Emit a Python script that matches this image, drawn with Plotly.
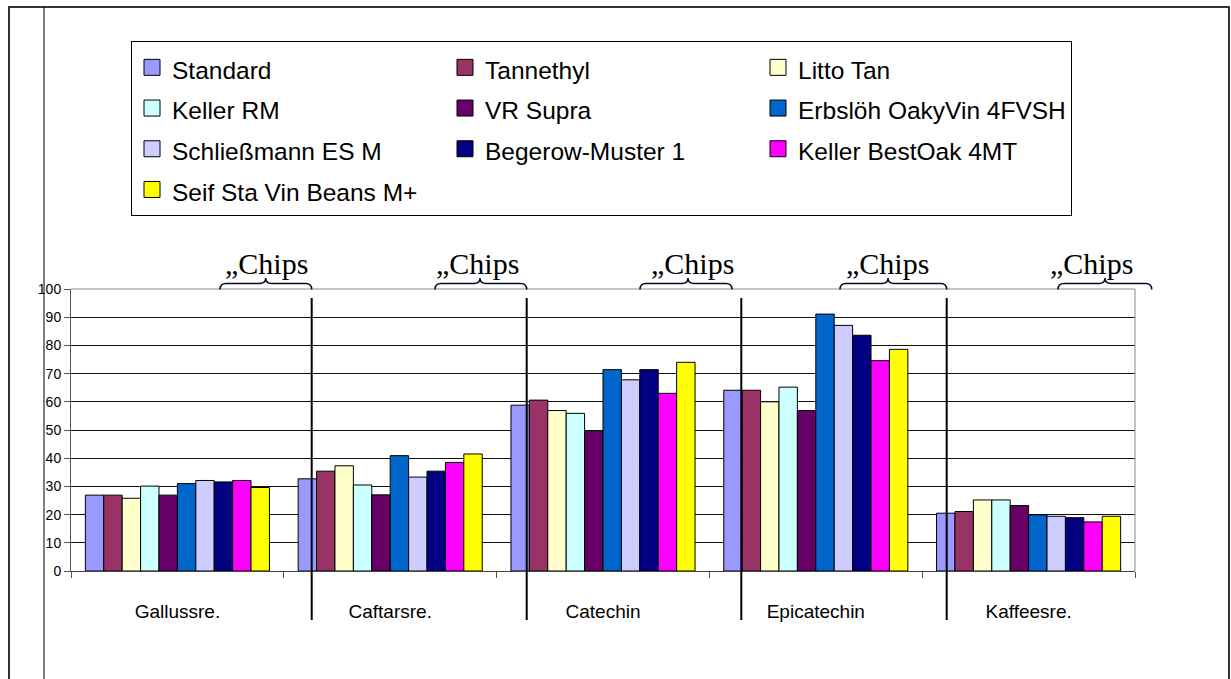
import plotly.graph_objects as go

# ---------------- data ----------------
categories = ["Gallussre.", "Caftarsre.", "Catechin", "Epicatechin", "Kaffeesre."]
series_names = ["Standard", "Tannethyl", "Litto Tan", "Keller RM", "VR Supra",
                "Erbslöh OakyVin 4FVSH", "Schließmann ES M", "Begerow-Muster 1",
                "Keller BestOak 4MT", "Seif Sta Vin Beans M+"]
standard = [26.9, 32.7, 58.8, 64.1, 20.5]
tannethyl = [26.9, 35.4, 60.6, 64.1, 21.1]
litto_tan = [25.8, 37.3, 56.9, 60.0, 25.2]
keller_rm = [30.1, 30.5, 55.9, 65.2, 25.2]
vr_supra = [26.9, 27.0, 49.6, 56.9, 23.2]
erbsloeh = [31.0, 40.9, 71.4, 91.1, 19.9]
schliessmann = [32.1, 33.3, 67.8, 87.1, 19.4]
begerow = [31.6, 35.4, 71.4, 83.6, 18.9]
bestoak = [32.1, 38.5, 63.0, 74.6, 17.4]
seif = [29.6, 41.5, 74.0, 78.6, 19.4]
series_values = [standard, tannethyl, litto_tan, keller_rm, vr_supra,
                 erbsloeh, schliessmann, begerow, bestoak, seif]
colors = ["#9999FF", "#993366", "#FFFFCC", "#CCFFFF", "#660066",
          "#0066CC", "#CCCCFF", "#000080", "#FF00FF", "#FFFF00"]
y_tick_values = list(range(0, 101, 10))
chips_label = "„Chips"

# ---------------- layout geometry (pixels) ----------------
W, H = 1231, 679
PL, PR, PT, PB = 71, 1135, 289, 571  # plot area box
FONT_SANS = "Liberation Sans, Arial, sans-serif"
FONT_SERIF = "Liberation Serif, Times New Roman, serif"


def px_x(px):
    return (px - PL) / (PR - PL)


def px_y(py):
    return (PB - py) / (PB - PT)


fig = go.Figure()

for name, vals, col in zip(series_names, series_values, colors):
    fig.add_trace(go.Bar(
        x=categories, y=vals, name=name, showlegend=False,
        marker=dict(color=col, line=dict(color="#000000", width=1)),
    ))

# legend proxies (square swatches); text drawn slightly narrower than row height
for name, col in zip(series_names, colors):
    fig.add_trace(go.Scatter(
        x=[None], y=[None], mode="markers",
        name=f'<span style="font-size:24.5px">{name}</span>',
        marker=dict(symbol="square", size=16, color=col,
                    line=dict(color="#000000", width=1)),
    ))

shapes = []
# outer frame (left, top, right)
shapes.append(dict(type="path", xref="paper", yref="paper",
                   path=f"M{px_x(9)},{px_y(700)} L{px_x(9)},{px_y(7)} L{px_x(1229)},{px_y(7)} L{px_x(1229)},{px_y(700)}",
                   line=dict(color="#333333", width=2)))
# inner vertical line
shapes.append(dict(type="line", xref="paper", yref="paper",
                   x0=px_x(44), x1=px_x(44), y0=px_y(7), y1=px_y(700),
                   line=dict(color="#000000", width=1)))
# plot border top/right (gray)
shapes.append(dict(type="line", xref="paper", yref="paper", x0=0, x1=1, y0=1, y1=1,
                   line=dict(color="#8c8c8c", width=1)))
shapes.append(dict(type="line", xref="paper", yref="paper", x0=1, x1=1, y0=0, y1=1,
                   line=dict(color="#8c8c8c", width=1)))
# dividers
for dx in [311.7, 526.7, 741.3, 946.7]:
    shapes.append(dict(type="line", xref="paper", yref="paper",
                       x0=px_x(dx), x1=px_x(dx), y0=px_y(298), y1=px_y(620),
                       line=dict(color="#000000", width=2)))

# braces
braces = [(220, 311.7, 265.7), (435, 526.7, 480), (640, 732, 688),
          (840, 946.7, 888), (1058, 1151.7, 1105)]
ybot, ytop, ypeak, r = 289.5, 283.5, 278, 6


def pt(x, y):
    return f"{px_x(x)},{px_y(y)}"


for x0, x1, xm in braces:
    path = (f"M{pt(x0, ybot)} Q{pt(x0, ytop)} {pt(x0 + r, ytop)} L{pt(xm - r, ytop)} "
            f"Q{pt(xm, ytop)} {pt(xm, ypeak)} Q{pt(xm, ytop)} {pt(xm + r, ytop)} "
            f"L{pt(x1 - r, ytop)} Q{pt(x1, ytop)} {pt(x1, ybot)}")
    shapes.append(dict(type="path", xref="paper", yref="paper", path=path,
                       line=dict(color="#0a0a28", width=1.5)))

annotations = []
for cx in [266, 477, 692, 887, 1091]:
    annotations.append(dict(text=chips_label, xref="paper", yref="paper",
                            x=px_x(cx), y=px_y(263), xanchor="center", yanchor="middle",
                            showarrow=False, font=dict(family=FONT_SERIF, size=30, color="#000000")))

fig.update_layout(
    width=W, height=H,
    margin=dict(l=PL, r=W - PR, t=PT, b=H - PB, pad=0),
    paper_bgcolor="white", plot_bgcolor="white",
    barmode="group", bargap=0.135, bargroupgap=0,
    shapes=shapes, annotations=annotations,
    showlegend=True,
    legend=dict(orientation="h", xref="container", yref="container",
                x=131 / W, y=1 - 41 / H, xanchor="left", yanchor="top",
                entrywidth=268, entrywidthmode="pixels",
                bordercolor="#000000", borderwidth=1, bgcolor="white",
                font=dict(family=FONT_SANS, size=29, color="#000000"),
                traceorder="normal"),
    xaxis=dict(type="category", range=[-0.5, 4.5], tickson="boundaries",
               ticks="outside", ticklen=6, tickcolor="#555555",
               showline=True, linecolor="#444444", linewidth=1,
               showgrid=False, ticklabelstandoff=23,
               tickfont=dict(family=FONT_SANS, size=19, color="#000000")),
    yaxis=dict(range=[0, 100], tickvals=y_tick_values, ticks="outside", ticklen=6,
               tickcolor="#555555", showline=True, linecolor="#555555", linewidth=1,
               showgrid=True, gridcolor="#111111", gridwidth=1, zeroline=False,
               tickfont=dict(family=FONT_SANS, size=14, color="#000000")),
)

fig.write_html("out.html")
